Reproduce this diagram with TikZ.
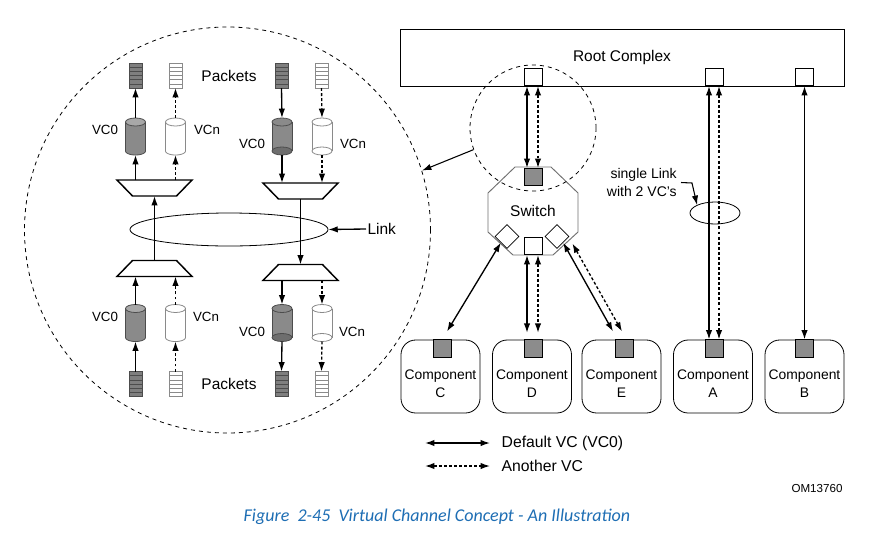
\documentclass[tikz,border=0pt]{standalone}
\usepackage{fontspec}
\setmainfont{Liberation Sans}
\newfontfamily\capfont{Carlito}
\usetikzlibrary{arrows.meta,shapes.geometric}
\definecolor{pktgray}{HTML}{7F7F7F}
\definecolor{cylgray}{HTML}{8A8A8A}
\definecolor{cyltop}{HTML}{A8A8A8}
\definecolor{cylbot}{HTML}{6E6E6E}
\definecolor{portgray}{HTML}{8C8C8C}
\definecolor{lightline}{HTML}{8A8A8A}
\definecolor{swline}{HTML}{707070}
\definecolor{capblue}{RGB}{30,110,180}
\tikzset{
  tip/.tip={Latex[length=7pt,width=4.8pt]},
  arr/.style={line width=1pt,-tip},
  dbl/.style={line width=1pt,tip-tip},
  dsh/.style={dash pattern=on 2.2pt off 1.6pt},
  port/.style={draw,line width=0.6pt,minimum width=13.5pt,minimum height=13pt,inner sep=0pt,fill=white},
  gport/.style={port,fill=portgray},
  comp/.style={draw,line width=0.6pt,rounded corners=11pt,minimum width=59.25pt,minimum height=54.75pt,inner sep=0pt},
  lbl/.style={font=\fontsize{10}{12}\selectfont,inner sep=0pt},
  big/.style={font=\fontsize{11.6}{14}\selectfont},
  comptext/.style={align=center,font=\fontsize{10.4}{13.5}\selectfont,inner sep=0pt},
  pics/pkt/.style 2 args={code={
    \draw[#2,fill=#1,line width=0.6pt] (-6.5,-12.5) rectangle (6.5,12.5);
    \foreach \k in {1,...,5}{\draw[#2,line width=0.5pt] (-6.5,{-12.5+\k*25/6}) -- (6.5,{-12.5+\k*25/6});}
    \coordinate (-t) at (0,-12.5);
    \coordinate (-b) at (0,12.5);
  }},
  pics/cylup/.style n args={3}{code={
    \fill[#1] (-10,-14.5) rectangle (10,14.5);
    \fill[#1] (0,14.5) ellipse[x radius=10,y radius=4];
    \draw[#2,line width=0.6pt] (-10,-14.5) -- (-10,14.5) (10,-14.5) -- (10,14.5);
    \draw[#2,line width=0.6pt] plot[domain=0:180,samples=30] ({10*cos(\x)},{14.5+4*sin(\x)});
    \draw[#2,fill=#3,line width=0.6pt] (0,-14.5) ellipse[x radius=10,y radius=4];
    \coordinate (-t) at (0,-18.5);
    \coordinate (-b) at (0,18.5);
  }},
  pics/cyldown/.style n args={3}{code={
    \fill[#1] (-10,-14.5) rectangle (10,14.5);
    \draw[#2,line width=0.6pt] (-10,-14.5) -- (-10,14.5) (10,-14.5) -- (10,14.5);
    \draw[#2,fill=#3,line width=0.6pt] (0,14.5) ellipse[x radius=10,y radius=4];
    \draw[#2,fill=#1,line width=0.6pt] (0,-14.5) ellipse[x radius=10,y radius=4];
    \coordinate (-t) at (0,-18.5);
    \coordinate (-b) at (0,18.5);
  }},
  pics/muxw/.style={code={
    \draw[line width=1.1pt,fill=white] (-37.5,-8) -- (37.5,-8) -- (22,8) -- (-22,8) -- cycle;
    \coordinate (-t) at (0,-8);
    \coordinate (-b) at (0,8);
  }},
  pics/muxn/.style={code={
    \draw[line width=1.1pt,fill=white] (-22,-8) -- (22,-8) -- (37.5,8) -- (-37.5,8) -- cycle;
    \coordinate (-t) at (0,-8);
    \coordinate (-b) at (0,8);
  }}
}
\begin{document}
\begin{tikzpicture}[x=0.75pt,y=-0.75pt]
\useasboundingbox (0,0) rectangle (889,533);
\fill[white] (0,0) rectangle (889,533);

% ---------------- left magnified circle ----------------
\node[circle,draw,dashed,line width=0.6pt,minimum size=304.5pt,inner sep=0pt] (bc) at (227.5,230) {};

% packets top
\pic (ptl) at (135.5,75.5) {pkt={pktgray}{black!70}};
\pic (ptlw) at (175.5,75.5) {pkt={white}{lightline}};
\pic (ptr) at (281.5,75.5) {pkt={pktgray}{black!70}};
\pic (ptrw) at (321.5,75.5) {pkt={white}{lightline}};
\node[big] (pk1) at (229,76) {Packets};

% cylinders top
\pic (ctl) at (135.5,136.5) {cylup={cylgray}{black!70}{cyltop}};
\pic (ctlw) at (175.5,136.5) {cylup={white}{lightline}{white}};
\pic (ctr) at (282,136.5) {cyldown={cylgray}{black!70}{cylbot}};
\pic (ctrw) at (322,136.5) {cyldown={white}{lightline}{white}};
\node[lbl] (l1) at (105,130) {VC0};
\node[lbl] (l2) at (207,130) {VCn};
\node[lbl] (l3) at (252,144) {VC0};
\node[lbl] (l4) at (353,144) {VCn};

% muxes
\pic (mtl) at (154.5,188) {muxw};
\pic (mtr) at (300.5,191) {muxw};
\pic (mbl) at (154.5,268.5) {muxn};
\pic (mbr) at (300.5,272.5) {muxn};

% cylinders bottom
\pic (cbl) at (135.5,323) {cylup={cylgray}{black!70}{cyltop}};
\pic (cblw) at (175.5,323) {cylup={white}{lightline}{white}};
\pic (cbr) at (282,323) {cyldown={cylgray}{black!70}{cylbot}};
\pic (cbrw) at (322,323) {cyldown={white}{lightline}{white}};
\node[lbl] (l5) at (105,317) {VC0};
\node[lbl] (l6) at (206,317) {VCn};
\node[lbl] (l7) at (252,332) {VC0};
\node[lbl] (l8) at (352,332) {VCn};

% packets bottom
\pic (pbl) at (135.5,384) {pkt={pktgray}{black!70}};
\pic (pblw) at (175.5,384) {pkt={white}{lightline}};
\pic (pbr) at (281.5,384) {pkt={pktgray}{black!70}};
\pic (pbrw) at (321.5,384) {pkt={white}{lightline}};
\node[big] (pk2) at (229,384) {Packets};

% link ellipse
\node[ellipse,draw,line width=0.6pt,minimum width=148.5pt,minimum height=24.75pt,inner sep=0pt] (lk) at (229,229.5) {};
\node[big,anchor=west,inner sep=1pt] (lkt) at (366,229) {Link};

% arrows top-left (upward)
\draw[arr] (mtl-t -| ctl-b) -- (ctl-b);
\draw[arr] (ctl-t) -- (ptl-b);
\draw[arr,dsh] (mtl-t -| ctlw-b) -- (ctlw-b);
\draw[arr,dsh] (ctlw-t) -- (ptlw-b);
% arrows top-right (downward)
\draw[arr] (ptr-b) -- (ctr-t);
\draw[arr] (ctr-b) -- (mtr-t -| ctr-b);
\draw[arr,dsh] (ptrw-b) -- (ctrw-t);
\draw[arr,dsh] (ctrw-b) -- (mtr-t -| ctrw-b);
% link lines
\draw[arr] (mbl-t) -- (mtl-b);
\draw[arr] (mtr-b) -- (mbr-t);
\draw[arr] (lkt.west) -- (lk.east);
% arrows bottom-left (upward)
\draw[arr] (pbl-t) -- (cbl-b);
\draw[arr] (cbl-t) -- (mbl-b -| cbl-t);
\draw[arr,dsh] (pblw-t) -- (cblw-b);
\draw[arr,dsh] (cblw-t) -- (mbl-b -| cblw-t);
% arrows bottom-right (downward)
\draw[arr] (mbr-b -| cbr-t) -- (cbr-t);
\draw[arr] (cbr-b) -- (pbr-t);
\draw[arr,dsh] (mbr-b -| cbrw-t) -- (cbrw-t);
\draw[arr,dsh] (cbrw-b) -- (pbrw-t);

% ---------------- right part ----------------
\node[draw,line width=0.6pt,minimum width=333pt,minimum height=42.75pt,inner sep=0pt,big] (rc) at (622,57.5) {Root Complex};
\node[port] (p1) at (533,77) {};
\node[port] (pa) at (714,77) {};
\node[port] (pb) at (804.5,77) {};

% switch
\draw[swline,line width=0.7pt,fill=white] (515,167) -- (551,167) -- (578,193) -- (578,232) -- (553,255) -- (513,255) -- (488,232) -- (488,193) -- cycle;
\node[big] (sw) at (533,211) {Switch};
\node[gport] (sg) at (533,177) {};
\node[port] (sb) at (533,246) {};
\node[diamond,draw,line width=0.6pt,fill=white,minimum width=18pt,minimum height=18pt,inner sep=0pt] (dl) at (507,236.5) {};
\node[diamond,draw,line width=0.6pt,fill=white,minimum width=18pt,minimum height=18pt,inner sep=0pt] (dr) at (557,236.5) {};

% small dashed circle
\node[circle,draw,dashed,line width=0.6pt,minimum size=94.5pt,inner sep=0pt] (sc) at (533,128) {};
\draw[arr,line width=0.8pt] (sc.200) -- (bc.17.6);

% components
\node[comp] (cc) at (440.5,376.5) {};
\node[comp] (cd) at (532,376.5) {};
\node[comp] (ce) at (621.5,376.5) {};
\node[comp] (ca) at (713,376.5) {};
\node[comp] (cb) at (804.5,376.5) {};
\node[gport] (pc) at (442,348.5) {};
\node[gport] (pd) at (533,348.5) {};
\node[gport] (pe) at (624,348.5) {};
\node[gport] (pac) at (714,348.5) {};
\node[gport] (pbc) at (804.5,348.5) {};
\node[comptext] (tc) at (440.5,384) {Component\\C};
\node[comptext] (td) at (532,384) {Component\\D};
\node[comptext] (te) at (621.5,384) {Component\\E};
\node[comptext] (ta) at (713,384) {Component\\A};
\node[comptext] (tb) at (804.5,384) {Component\\B};

% connectors right
\draw[dbl] ([xshift=-4.5pt]p1.south) -- ([xshift=-4.5pt]sg.north);
\draw[dbl,dsh] ([xshift=3.75pt]p1.south) -- ([xshift=3.75pt]sg.north);
\draw[dbl] ([xshift=-4.5pt]sb.south) -- ([xshift=-4.5pt,yshift=5pt]pd.north);
\draw[dbl,dsh] ([xshift=3.75pt]sb.south) -- ([xshift=3.75pt,yshift=5pt]pd.north);
\draw[dbl] (dl.south west) -- ([shift={(5,-8)}]pc.north);
\draw[dbl] (dr.south east) -- ([shift={(-11,-8)}]pe.north);
\draw[dbl,dsh] ([shift={(3,7)}]dr.east) -- ([shift={(-2,-8)}]pe.north);
\draw[dbl] ([xshift=-3.75pt]pa.south) -- ([xshift=-3.75pt]pac.north);
\draw[dbl,dsh] ([xshift=3.75pt]pa.south) -- ([xshift=3.75pt]pac.north);
\draw[dbl] (pb.south) -- (pbc.north);

% single link annotation
\node[ellipse,draw,line width=0.6pt,minimum width=37.5pt,minimum height=16.5pt,inner sep=0pt] (sl) at (715,213) {};
\node[align=right,anchor=east,font=\fontsize{10.5}{12.8}\selectfont,inner sep=0pt] (slt) at (677,182.5) {single Link\\with 2 VC's};
\coordinate (slk) at (692,183);
\draw[arr,line width=0.8pt] ([xshift=3pt]slt.east) -- (slk) -- (sl.north west);

% legend
\coordinate (lg1a) at (425,443);
\coordinate (lg1b) at (490,443);
\coordinate (lg2a) at (425,466);
\coordinate (lg2b) at (490,466);
\draw[dbl] (lg1a) -- (lg1b);
\draw[dbl,dsh] (lg2a) -- (lg2b);
\node[big,anchor=west,font=\fontsize{11.8}{14}\selectfont] (lt1) at (497,443) {Default VC (VC0)};
\node[big,anchor=west,font=\fontsize{11.8}{14}\selectfont] (lt2) at (497,466) {Another VC};

\node[font=\fontsize{8.7}{10}\selectfont] (om) at (817,488) {OM13760};
\node[font=\capfont\itshape\fontsize{13.5}{16}\selectfont,text=capblue] (cap) at (437,517) {Figure\ \ 2-45\ \ Virtual Channel Concept - An Illustration};
\end{tikzpicture}
\end{document}
